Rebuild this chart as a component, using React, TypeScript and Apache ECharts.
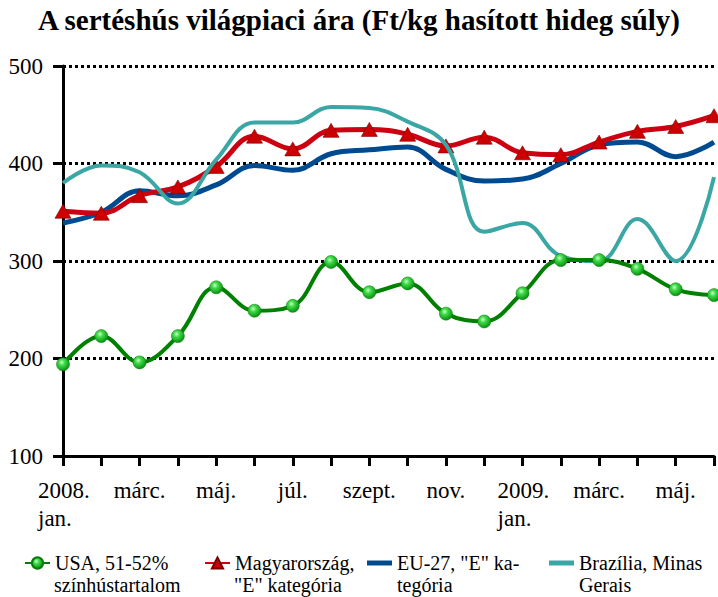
import React, { useEffect, useRef } from 'react';
import * as echarts from 'echarts';

const categories = [
  '2008.\njan.', 'febr.', 'márc.', 'ápr.', 'máj.', 'jún.', 'júl.', 'aug.', 'szept.', 'okt.', 'nov.', 'dec.',
  '2009.\njan.', 'febr.', 'márc.', 'ápr.', 'máj.', 'jún.',
];
const usa = [194, 223, 196, 223, 273, 249, 254, 299, 268, 277, 246, 238, 267, 301, 301, 292, 271, 265];
const hungary = [351, 349, 367, 376, 397, 428, 415, 434, 435, 430, 418, 427, 411, 409, 422, 433, 438, 449];
const eu27 = [339, 350, 372, 367, 378, 398, 393, 410, 414, 417, 394, 382, 384, 400, 419, 422, 407, 422];
const brazil = [380, 398, 391, 359, 404, 442, 442, 458, 457, 443, 419, 330, 339, 305, 300, 343, 300, 386];

const seriesNames = ['USA', 'Magyarország', 'EU-27', 'Brazília'];
const legendLine1 = ['USA, 51-52%', 'Magyarország,', 'EU-27, "E" ka-', 'Brazília, Minas'];
const legendLine2 = ['színhústartalom', '"E" kategória', 'tegória', 'Gerais'];

const yMin = 100;
const yMax = 500;
const yStep = 100;

const titleText = 'A sertéshús világpiaci ára (Ft/kg hasított hideg súly)';

const FONT = 'Liberation Serif, serif';

export default function App() {
  const ref = useRef<HTMLDivElement>(null);
  useEffect(() => {
    if (!ref.current) return;
    const chart = echarts.init(ref.current, null, { renderer: 'svg' });
    const legendLefts = [24, 204, 367, 549];
    const legendItemW = 25;
    const legendTop = 553;
    const legendIconH = [14, 14, 5, 5];
    const legendIcon: (string | undefined)[] = [undefined, undefined, 'rect', 'rect'];
    const greenMarker = {
      type: 'radial', x: 0.4, y: 0.35, r: 0.65,
      colorStops: [
        { offset: 0, color: '#c8ffc8' },
        { offset: 0.35, color: '#40dc48' },
        { offset: 1, color: '#0a8f14' },
      ],
    };
    const option: any = {
      animation: false,
      backgroundColor: '#ffffff',
      textStyle: { fontFamily: FONT, fontWeight: 'normal' },
      title: {
        text: titleText,
        left: 'center',
        top: 5,
        padding: 0,
        textStyle: { fontFamily: FONT, fontSize: 29, fontWeight: 'bold', color: '#000' },
      },
      grid: { left: 63, top: 66, width: 651, height: 390 },
      legend: seriesNames.map((n, i) => ({
        data: [legendIcon[i] ? { name: n, icon: legendIcon[i] } : n],
        left: legendLefts[i],
        top: legendTop,
        padding: 0,
        itemWidth: legendItemW,
        itemHeight: legendIconH[i],
        selectedMode: false,
        formatter: () => legendLine1[i],
        textStyle: { fontFamily: FONT, fontWeight: 'normal', fontSize: 20, color: '#000', lineHeight: 20 },
      })),
      graphic: legendLine2.map((t, i) => ({
        type: 'text',
        left: legendLefts[i] + legendItemW + 5,
        top: legendTop + 22,
        style: { text: t, font: `normal 20px ${FONT}`, fill: '#000' },
      })),
      xAxis: {
        type: 'category',
        data: categories,
        boundaryGap: false,
        axisLine: { lineStyle: { color: '#000', width: 3 } },
        axisTick: { show: true, interval: 0, length: 10, lineStyle: { color: '#000', width: 3 } },
        axisLabel: {
          interval: 1,
          margin: 20,
          color: '#000',
          fontFamily: FONT,
          fontWeight: 'normal',
          fontSize: 23,
          lineHeight: 28,
          formatter: (v: string) => {
            const parts = v.split('\n');
            if (parts.length > 1) return `{a|${parts[0]}}\n{a|${parts[1]}}`;
            return v;
          },
          rich: {
            a: { width: 50, align: 'left', fontFamily: FONT, fontWeight: 'normal', fontSize: 23, lineHeight: 28, color: '#000' },
          },
        },
        splitLine: { show: false },
      },
      yAxis: {
        type: 'value',
        min: yMin,
        max: yMax,
        interval: yStep,
        axisLine: { show: true, lineStyle: { color: '#000', width: 3 } },
        axisTick: { show: true, length: 10, lineStyle: { color: '#000', width: 3 } },
        axisLabel: { margin: 20, color: '#000', fontFamily: FONT, fontWeight: 'normal', fontSize: 23 },
        splitLine: { show: true, lineStyle: { color: '#000', width: 3, type: [3, 3] } },
      },
      series: [
        {
          name: seriesNames[0], type: 'line', data: usa, smooth: 0.4,
          symbol: 'circle', symbolSize: 13, z: 5,
          lineStyle: { color: '#008000', width: 4 },
          itemStyle: { color: greenMarker, borderColor: '#0a7a0a', borderWidth: 0.5 },
        },
        {
          name: seriesNames[1], type: 'line', data: hungary, smooth: 0.4,
          symbol: 'triangle', symbolSize: [16, 14], z: 3,
          lineStyle: { color: '#cc0011', width: 5 },
          itemStyle: { color: '#cc0000', borderColor: '#7a0000', borderWidth: 0.6 },
        },
        {
          name: seriesNames[2], type: 'line', data: eu27, smooth: 0.4,
          symbol: 'none', z: 2,
          lineStyle: { color: '#004a8f', width: 5 },
          itemStyle: { color: '#004a8f' },
        },
        {
          name: seriesNames[3], type: 'line', data: brazil, smooth: 0.4,
          symbol: 'none', z: 4,
          lineStyle: { color: '#3aa7a5', width: 4 },
          itemStyle: { color: '#3aa7a5' },
        },
      ],
    };
    chart.setOption(option);
    return () => chart.dispose();
  }, []);
  return <div ref={ref} style={{ position: 'absolute', left: 0, top: 0, width: 718, height: 597 }} />;
}
